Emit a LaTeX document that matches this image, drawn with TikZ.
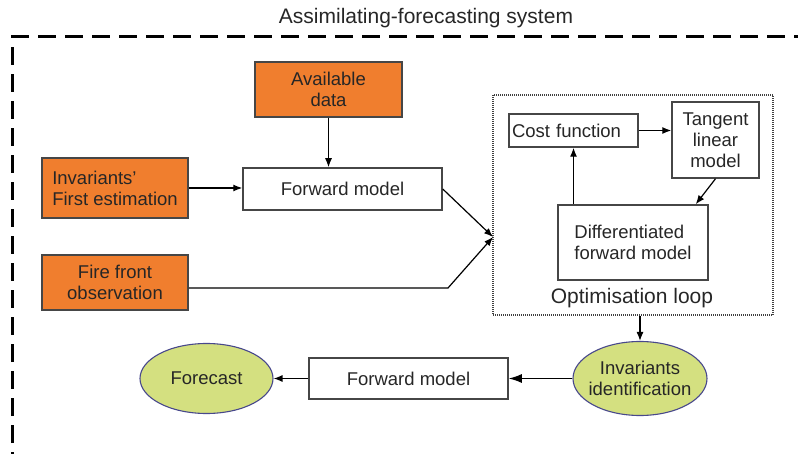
\documentclass[tikz,border=0pt]{standalone}
\usepackage{fontspec}
\setmainfont{Liberation Sans}
\usetikzlibrary{arrows.meta,shapes.geometric}
\definecolor{cus-orange}{RGB}{240,126,46}
\definecolor{cus-lime}{RGB}{212,224,128}
\definecolor{cus-rim}{RGB}{72,72,140}
\definecolor{cus-edge}{RGB}{70,70,70}

\begin{document}
\begin{tikzpicture}[x=1pt,y=-1pt,
	every node/.style={font=\fontsize{18.5}{21}\selectfont,text=black!85},
	bigtext/.style={font=\fontsize{21}{24}\selectfont},
	box/.style={draw=cus-edge,line width=1.5pt,fill=white,inner sep=0pt,align=center},
	databox/.style={box,fill=cus-orange},
	blob/.style={ellipse,draw=cus-rim,line width=1.1pt,fill=cus-lime,inner sep=-6pt,align=center},
	link/.style={line width=1.2pt,-{Latex[length=9pt,width=7pt]}},
	bigarrow/.style={line width=1.4pt,-{Latex[length=13pt,width=9pt]}}]
\useasboundingbox (0,0) rectangle (798,454);
% outer frame of the whole system
\draw[line width=3pt,dash pattern=on 18pt off 9pt] (12,470) -- (12,37) -- (820,37);
\node[bigtext] (title) at (426,18) {Assimilating-forecasting system};
% inputs
\node[databox,minimum width=147pt,minimum height=55pt] (avail) at (328.5,89.5) {Available\\data};
\node[databox,minimum width=146pt,minimum height=60pt,align=left] (first) at (115,188) {Invariants'\\First estimation};
\node[databox,minimum width=146pt,minimum height=55pt] (fire) at (115,282.5) {Fire front\\observation};
\node[box,minimum width=199pt,minimum height=42pt] (fwd) at (342.5,189) {Forward model};
% optimisation loop
\node[draw=gray!50!black,dash pattern=on 1pt off 1pt,line width=1.2pt,minimum width=280pt,minimum height=220pt] (loop) at (633,205) {};
\node[bigtext] (looplbl) at (632,298) {Optimisation loop};
\node[box,minimum width=129pt,minimum height=33pt,text width=123pt,align=left] (cost) at (573.5,130.5) {Cost function};
\node[box,minimum width=87pt,minimum height=76pt] (tang) at (715.5,140) {Tangent\\linear\\model};
\node[box,minimum width=150pt,minimum height=75pt,align=left] (diff) at (633,242.5) {Differentiated\\forward model};
% outputs
\node[blob,minimum width=134pt,minimum height=74pt] (ident) at (640,378.5) {Invariants\\identification};
\node[box,minimum width=199pt,minimum height=41pt] (fwdb) at (408.5,378.5) {Forward model};
\node[blob,minimum width=133pt,minimum height=70pt] (fcast) at (206.5,378.5) {Forecast};
\coordinate (merge) at (493,237);
\coordinate (kink) at (448,288);
% connectors
\draw[link] (avail.south) -- (avail.south |- fwd.north);
\draw[link] (first.east) -- (fwd.west |- first.east);
\draw[link] (fwd.east) -- (merge);
\draw[link] (fire.east |- kink) -- (kink) -- (merge);
\draw[link] (cost.east) -- (tang.west |- cost.east);
\draw[link] (tang.south) -- ([xshift=-13pt]diff.north east);
\draw[link] (diff.north -| cost.south) -- (cost.south);
\draw[link] (ident.north |- loop.south) -- (ident.north);
\draw[bigarrow] (ident.west) -- (fwdb.east);
\draw[link] (fwdb.west) -- (fcast.east);
\end{tikzpicture}
\end{document}
